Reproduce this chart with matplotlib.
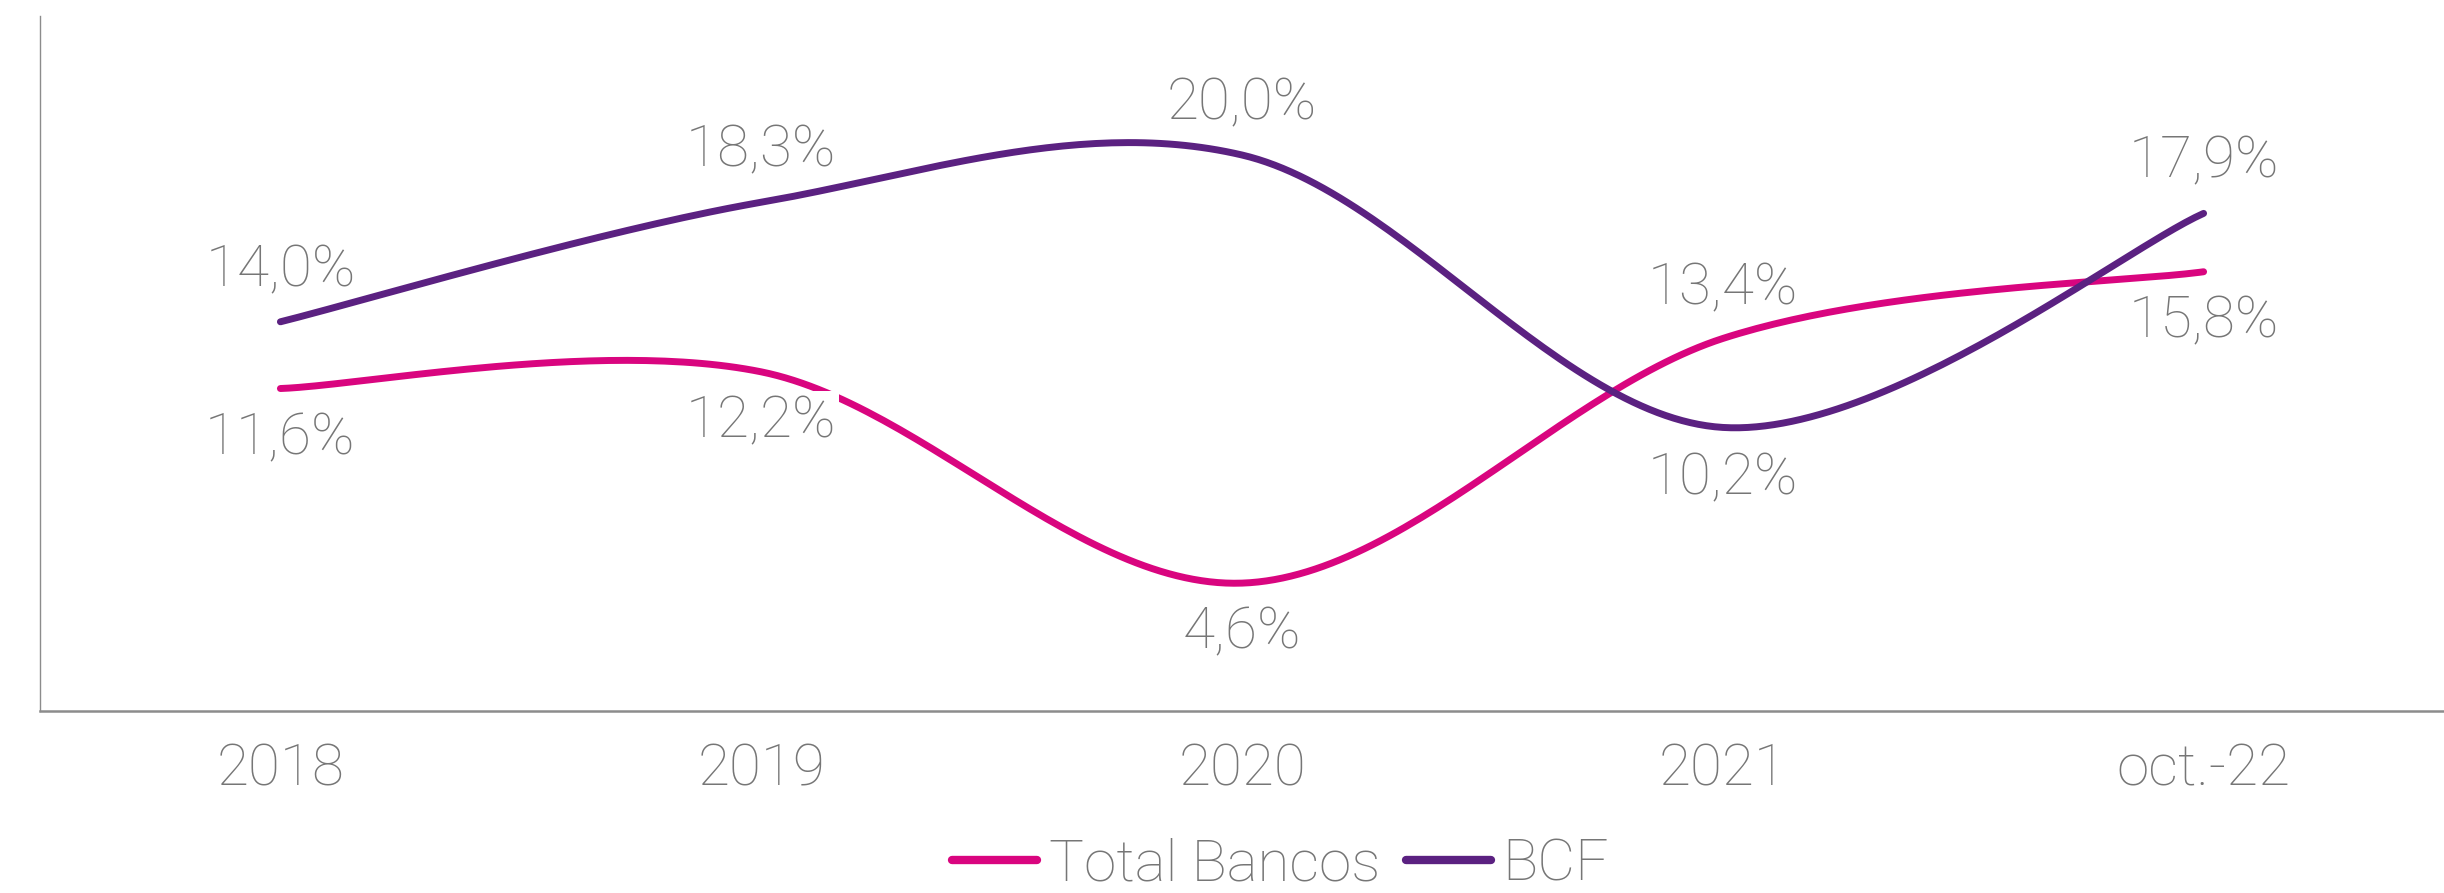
import numpy as np
import matplotlib
matplotlib.use("Agg")
import matplotlib.pyplot as plt
from matplotlib.lines import Line2D

categories = ["2018", "2019", "2020", "2021", "oct.-22"]
total_bancos = [11.6, 12.2, 4.6, 13.4, 15.8]
bcf = [14.0, 18.3, 20.0, 10.2, 17.9]
total_labels = ["11,6%", "12,2%", "4,6%", "13,4%", "15,8%"]
bcf_labels = ["14,0%", "18,3%", "20,0%", "10,2%", "17,9%"]
# label placement: +1 above, -1 below
total_pos = [-1, -1, -1, 1, -1]
bcf_pos = [1, 1, 1, -1, 1]

PINK = "#D9057F"
PURPLE = "#5B2181"
GRAY = "#767676"

plt.rcParams['font.family'] = ['Roboto', 'DejaVu Sans']
plt.rcParams['font.weight'] = 'light'


def smooth(xs, ys, n=60):
    """Excel-style smoothed line (uniform Catmull-Rom as cubic Bezier)."""
    P = np.column_stack([xs, ys]).astype(float)
    ext = np.vstack([P[0], P, P[-1]])
    out = []
    t = np.linspace(0, 1, n)[:, None]
    for i in range(len(P) - 1):
        p0, p1, p2, p3 = ext[i], ext[i + 1], ext[i + 2], ext[i + 3]
        c1 = p1 + (p2 - p0) / 6.0
        c2 = p2 - (p3 - p1) / 6.0
        seg = ((1 - t) ** 3) * p1 + 3 * ((1 - t) ** 2) * t * c1 + 3 * (1 - t) * t ** 2 * c2 + t ** 3 * p2
        out.append(seg if i == 0 else seg[1:])
    S = np.vstack(out)
    return S[:, 0], S[:, 1]


fig = plt.figure(figsize=(24.44, 8.93), dpi=100)
ax = fig.add_axes([40 / 2444, (893 - 711) / 893, 1 - 40 / 2444, (711 - 16) / 893])

x = np.arange(len(categories))
lw = 5
sx, sy = smooth(x, total_bancos)
ax.plot(sx, sy, color=PINK, lw=lw, solid_capstyle='round', zorder=3)
sx, sy = smooth(x, bcf)
ax.plot(sx, sy, color=PURPLE, lw=lw, solid_capstyle='round', zorder=3)

fs = 42
for xi, v, lab, p in zip(x, total_bancos, total_labels, total_pos):
    kw = {}
    if p < 0:
        kw['bbox'] = dict(boxstyle='square,pad=0.05', fc='white', ec='none')
    ax.annotate(lab, (xi, v), xytext=(0, 36 * p), textcoords='offset points',
                ha='center', va='center', fontsize=fs, color=GRAY, fontweight='light',
                zorder=5, **kw)
for xi, v, lab, p in zip(x, bcf, bcf_labels, bcf_pos):
    ax.annotate(lab, (xi, v), xytext=(0, 37 * p), textcoords='offset points',
                ha='center', va='center', fontsize=fs, color=GRAY, fontweight='light',
                zorder=5)

ax.set_xlim(-0.5, len(categories) - 0.5)
ax.set_ylim(0, 25)
ax.set_xticks(x)
ax.set_xticklabels(categories, fontsize=fs, color=GRAY, fontweight='light')
ax.tick_params(axis='x', length=0, pad=23)
ax.set_yticks([])
for s in ['top', 'right']:
    ax.spines[s].set_visible(False)
ax.spines['left'].set_color('#8c8c8c')
ax.spines['left'].set_linewidth(1.0)
ax.spines['bottom'].set_color('#8c8c8c')
ax.spines['bottom'].set_linewidth(1.8)

handles = [Line2D([0], [0], color=PINK, lw=6, solid_capstyle='round'),
           Line2D([0], [0], color=PURPLE, lw=6, solid_capstyle='round')]
leg = fig.legend(handles, ["Total Bancos", "BCF"], loc='center', bbox_to_anchor=(0.524, 0.031),
                 ncol=2, frameon=False, fontsize=fs, handlelength=1.45, handletextpad=0.2,
                 columnspacing=0.45, borderaxespad=0, borderpad=0)
for t in leg.get_texts():
    t.set_color(GRAY)
    t.set_fontweight('light')

fig.savefig("out.png", dpi=100)
